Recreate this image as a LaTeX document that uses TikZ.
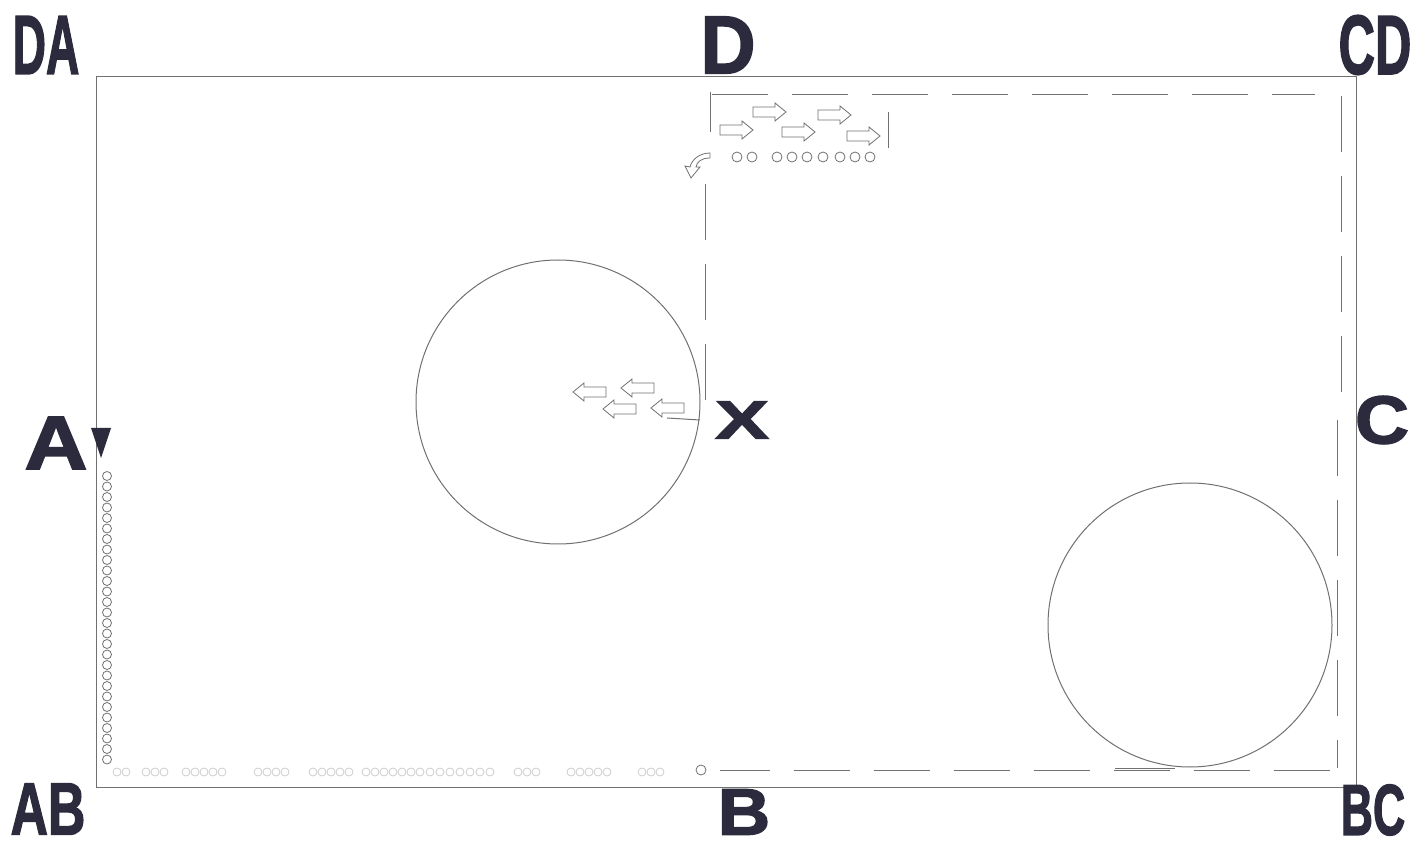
\documentclass[tikz,border=0pt]{standalone}
\usepackage{fontspec}
\setmainfont{Liberation Sans}
\newfontfamily\heavy[FakeBold=2]{Liberation Sans Bold}
\usepackage{graphicx}
\usetikzlibrary{positioning,arrows.meta}
\definecolor{ink}{HTML}{2B2B3D}
\definecolor{pencil}{HTML}{707070}

% right-pointing outlined block arrow, tail centre at #2
\newcommand{\blockarrow}[2][]{%
  \draw[arrowbody,#1] ([shift={(0,-5)}]#2) -- ++(22,0) -- ++(0,-4) -- ++(11,9)
    -- ++(-11,9) -- ++(0,-4) -- ++(-22,0) -- cycle;}

\begin{document}
\begin{tikzpicture}[
        x=0.5pt, y=-0.5pt,
        letter/.style={text=ink, inner sep=0pt, font=\heavy\fontsize{#1}{#1}\selectfont},
        arena/.style={draw=pencil, line width=0.5pt},
        track/.style={draw=pencil, line width=0.5pt, dash pattern=on 28pt off 12pt},
        marker/.style={draw=pencil, line width=0.4pt},
        faint/.style={draw=gray!40, line width=0.4pt},
        arrowbody/.style={draw=pencil, line width=0.4pt, fill=white}
    ]
        \useasboundingbox (0,0) rectangle (1410,845);

        % Arena outline
        \draw[arena] (96,77) rectangle (1356,787);

        % Corner and side letters
        \node[letter=42pt] (da) at (46,45) {\scalebox{0.55}[1]{DA}};
        \node[letter=41pt] (d) at (728,45) {\scalebox{0.93}[1]{D}};
        \node[letter=42pt] (cd) at (1375,45) {\scalebox{0.6}[1]{CD}};
        \node[letter=38pt] (a) at (56,443) {\scalebox{1.15}[1]{A}};
        \node[letter=34pt] (c) at (1382,420) {\scalebox{1.1}[1]{C}};
        \node[letter=27pt] (x) at (742,420) {\scalebox{1.5}[1]{X}};
        \node[letter=37pt] (ab) at (48,809) {\scalebox{0.7}[1]{AB}};
        \node[letter=33pt] (b) at (744,812) {\scalebox{1.1}[1]{B}};
        \node[letter=36pt] (bc) at (1373,810) {\scalebox{0.62}[1]{BC}};

        % Circles
        \draw[arena] (558,402) circle (142);
        \draw[arena] (1190,625) circle (142);

        % Track from X up to D, along the long side and back to B
        \draw[track] (705,400) -- (705,180);
        \draw[arena] (710,92) -- (710,132);
        \draw[arena] (888,112) -- (888,148);
        \draw[track] (712,95) -- (1315,95);
        \draw[track] (1341,96) -- (1341,400);
        \draw[track] (1337,420) -- (1337,768);
        \draw[track] (1330,770) -- (720,770);
        \draw[arena] (1115,768) -- (1175,768);
        \draw[arena] (667,418) -- (700,420);

        % Turn arrow near D
        \draw[arrowbody] (710,158) .. controls (701,158) and (697,162) .. (696,167)
            -- (700,167) -- (691,178) -- (685,166) -- (690,167)
            .. controls (692,159) and (700,153) .. (710,153) -- cycle;

        % Block arrows towards C
        \blockarrow{720,130}
        \blockarrow{753,112}
        \blockarrow{782,132}
        \blockarrow{818,115}
        \blockarrow{847,136}

        % Block arrows inside the circle
        \begin{scope}[xscale=-1]
            \blockarrow{-606,392}
            \blockarrow{-654,388}
            \blockarrow{-636,409}
            \blockarrow{-684,408}
        \end{scope}

        % Hoof prints
        \foreach \px in {737,752,777,792,807,823,840,855,870}
            \draw[marker] (\px,157) circle (5);
        \foreach \i in {0,...,27}
            \draw[marker] (107,{476+\i*10.5}) circle (4.5);
        \foreach \px in {117,126,146,155,164,186,195,204,213,222,258,267,276,285,
                         313,322,331,340,349,366,375,384,393,402,411,420,430,440,
                         450,460,470,480,490,518,527,536,571,580,589,598,607,642,651,660}
            \draw[faint] (\px,772) circle (4);
        \draw[marker] (701,770) circle (5);

        % Start marker at A
        \draw[arena] (96,77) -- (96,430);
        \fill[ink] (91,428) -- (111,428) -- (101,458) -- cycle;

    \end{tikzpicture}
\end{document}
